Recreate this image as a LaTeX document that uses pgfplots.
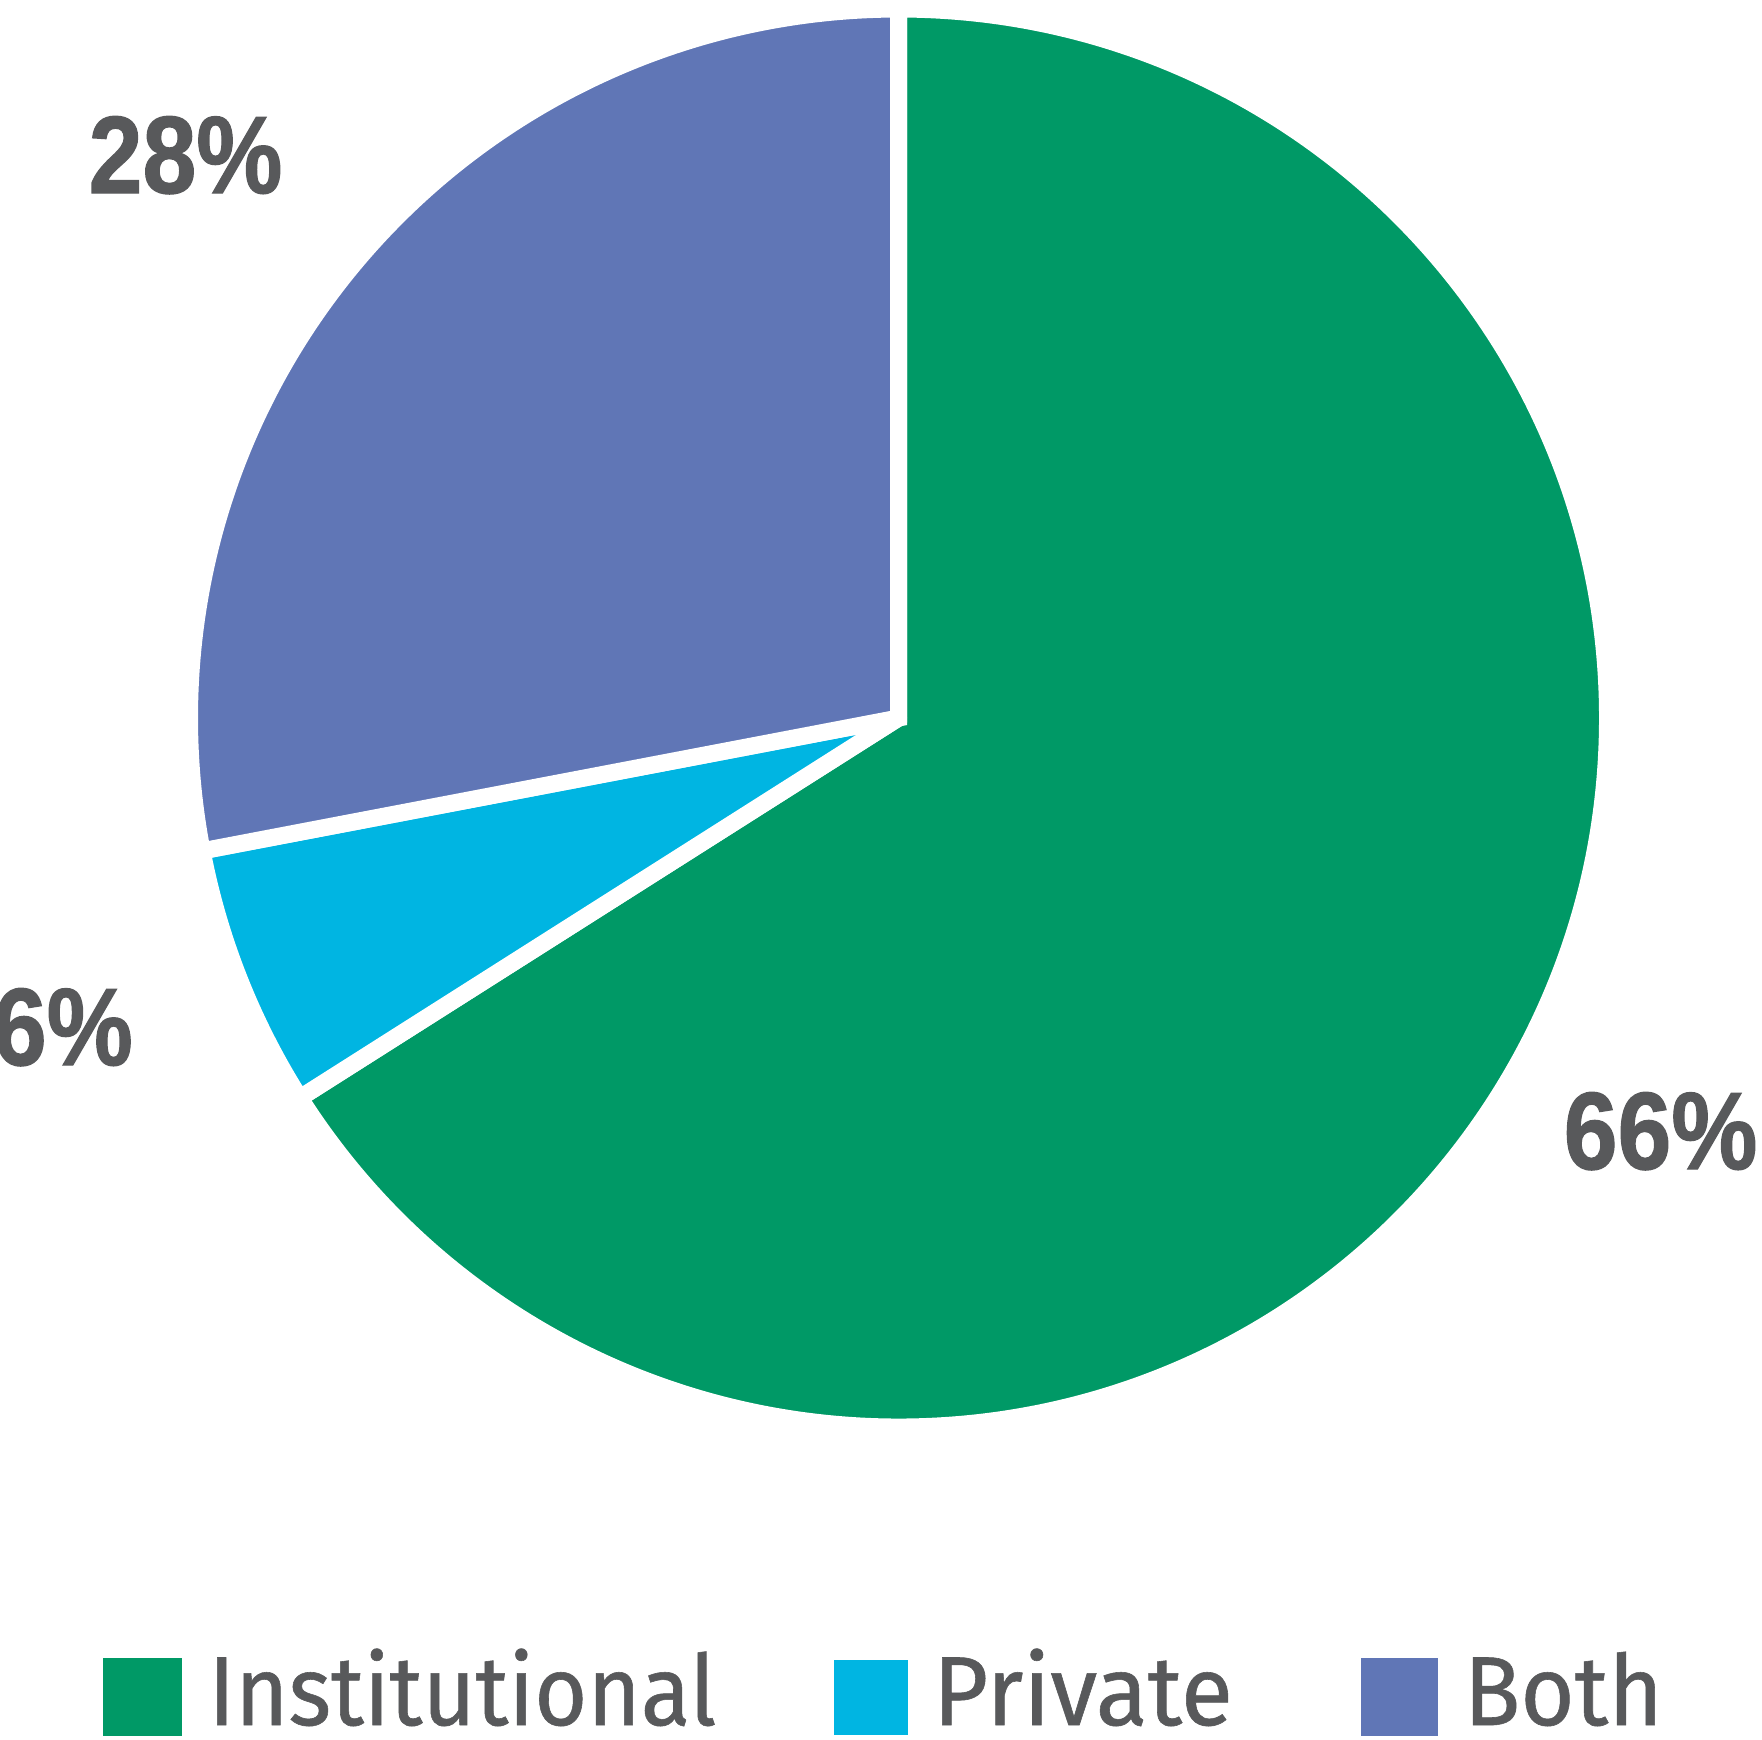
\documentclass[border=0pt]{standalone}
\usepackage{pgfplots}
\pgfplotsset{compat=1.18}
\usepackage{fontspec}
\setmainfont{Fira Sans}[FakeBold=0.6]
\newfontfamily\numfont{Liberation Sans}[BoldFeatures={FakeBold=1.2}]
\definecolor{inst}{HTML}{009966}
\definecolor{priv}{HTML}{00B5E2}
\definecolor{both}{HTML}{6076B6}
\definecolor{txt}{HTML}{58595B}
\begin{document}
\begin{tikzpicture}
% data (percent)
\def\vInst{66}
\def\vPriv{6}
\def\vBoth{28}
\pgfmathsetmacro\aA{90-3.6*\vInst}
\pgfmathsetmacro\aB{\aA-3.6*\vPriv}
\pgfmathsetmacro\aC{\aB-3.6*\vBoth}
\def\R{177.25pt}
\begin{axis}[hide axis, scale only axis, width=440.5pt, height=434.75pt,
  xmin=0, xmax=1762, ymin=0, ymax=1739, y dir=reverse, clip=false]
\filldraw[fill=inst, draw=white, line width=4.25pt, line join=miter]
  (axis cs:898.5,718) -- ++(90:\R) arc[start angle=90, end angle=\aA, radius=\R] -- cycle;
\filldraw[fill=priv, draw=white, line width=4.25pt, line join=round]
  (axis cs:898.5,718) -- ++(\aA:\R) arc[start angle=\aA, end angle=\aB, radius=\R] -- cycle;
\filldraw[fill=both, draw=white, line width=4.25pt, line join=miter]
  (axis cs:898.5,718) -- ++(\aB:\R) arc[start angle=\aB, end angle=\aC, radius=\R] -- cycle;
\node[anchor=base west, inner sep=0, text=txt, font=\numfont\bfseries\fontsize{27.5}{30}\selectfont, xscale=0.88] at (axis cs:88,193) {28\%};
\node[anchor=base east, inner sep=0, text=txt, font=\numfont\bfseries\fontsize{27.5}{30}\selectfont, xscale=0.88] at (axis cs:133.5,1065) {6\%};
\node[anchor=base west, inner sep=0, text=txt, font=\numfont\bfseries\fontsize{27.5}{30}\selectfont, xscale=0.88] at (axis cs:1563,1169) {66\%};
% legend
\fill[inst] (axis cs:103.4,1657.5) rectangle (axis cs:182,1736);
\fill[priv] (axis cs:833.8,1660) rectangle (axis cs:908,1735);
\fill[both] (axis cs:1360.8,1657.5) rectangle (axis cs:1438.3,1736);
\node[anchor=base west, inner sep=0, text=txt, font=\fontsize{24.5}{28}\selectfont, xscale=0.93] at (axis cs:207.5,1725) {Institutional};
\node[anchor=base west, inner sep=0, text=txt, font=\fontsize{24.5}{28}\selectfont, xscale=0.975] at (axis cs:932,1725) {Private};
\node[anchor=base west, inner sep=0, text=txt, font=\fontsize{24.5}{28}\selectfont, xscale=0.95] at (axis cs:1463,1725) {Both};
\end{axis}
\pgfresetboundingbox
\path (0,0) rectangle (440.5pt,434.75pt);
\end{tikzpicture}
\end{document}
